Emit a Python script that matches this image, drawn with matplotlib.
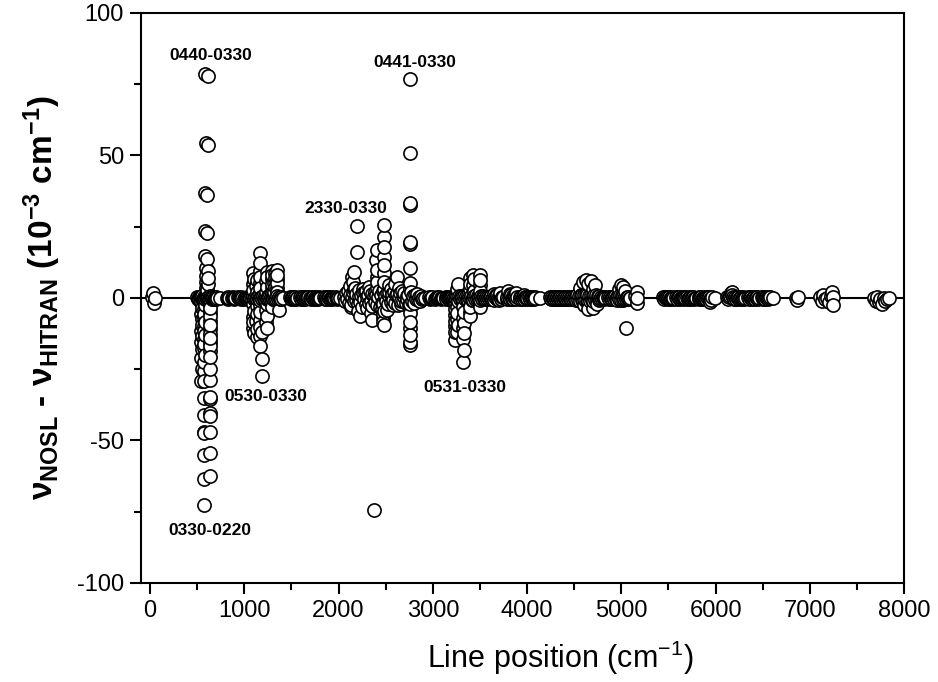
import numpy as np
import matplotlib.pyplot as plt
from matplotlib.ticker import MultipleLocator

plt.rcParams['font.family'] = ['Liberation Sans', 'DejaVu Sans']
plt.rcParams['mathtext.fontset'] = 'custom'
plt.rcParams['mathtext.rm'] = 'Liberation Sans'
plt.rcParams['mathtext.bf'] = 'Liberation Sans:bold'
plt.rcParams['mathtext.it'] = 'Liberation Sans:italic'
plt.rcParams['axes.unicode_minus'] = False

# line positions (cm-1) and deviations NOSL - HITRAN (1e-3 cm-1), read band by band

pos_low = [15, 30, 40, 50]
dev_low = [0.2, 1.6, -1.8, 0.0]

# 0440-0330 / 0330-0220 region
pos_b0 = [502, 509, 515, 522, 528, 535, 541, 548, 554, 561,
          567, 574, 580, 587, 593, 600, 606, 613, 619, 626,
          632, 639, 645, 652, 658, 665, 671, 678, 684, 691,
          697, 704, 712, 743]
dev_b0 = [0.2, -0.3, 0.4, -0.2, 0.5, -0.4, 0.3, -0.5, 0.6, -0.3,
          0.4, -0.6, 0.2, -0.4, 0.5, -0.2, 0.3, -0.5, 0.4, -0.3,
          0.6, -0.4, 0.2, -0.5, 0.3, -0.2, 0.4, -0.3, 0.2, -0.4,
          0.3, -0.2, 0.1, 0.0]
pos_b1 = [585, 612, 588, 610, 583, 606, 585, 608, 582, 605, 588, 610, 592, 614, 590, 612, 595, 608, 600]
dev_b1 = [78.6, 77.8, 54.3, 53.8, 36.9, 36.3, 23.5, 22.9, 14.6, 13.8, 10.4, 9.6, 7.8, 7.0, 5.6, 4.8,
          3.6, 2.8, 2.0]
pos_b2 = [545, 548, 543, 546, 549, 544, 547, 545, 548, 543, 546, 544]
dev_b2 = [-1.5, -3.5, -5.5, -7.5, -9.5, -11.5, -13.5, -15.5, -18.0, -21.0, -25.0, -29.0]
pos_b3 = [575, 578, 573, 576, 574, 577, 572, 575, 578, 573, 576, 574, 577, 575, 572, 576,
          574, 573, 575, 572, 574, 573, 575]
dev_b3 = [-1.0, -2.5, -4.0, -5.5, -7.0, -8.5, -10.0, -11.5, -13.0, -14.5, -16.0, -17.5, -20.0,
          -22.5, -25.5, -29.3, -35.0, -41.0, -47.5, -55.0, -63.5, -47.0, -72.6]
pos_b4 = [637, 640, 635, 638, 636, 639, 634, 637, 640, 635, 638, 636, 639, 637, 634, 638,
          636, 637, 635, 638, 636, 637]
dev_b4 = [-2.0, -3.5, -5.0, -6.5, -8.0, -9.5, -11.0, -12.5, -14.0, -15.5, -17.0, -18.5, -20.6,
          -24.8, -28.8, -34.6, -40.4, -46.9, -54.3, -62.5, -35.5, -41.5]

# 0530-0330 region
pos_c0 = [815, 823, 831, 839, 870, 878, 886, 894, 902, 935,
          943, 951, 959, 967, 975, 1000, 1008, 1016, 1024, 1032,
          1040, 1048, 1056, 1064]
dev_c0 = [0.1, -0.2, 0.2, 0.0, -0.1, 0.2, -0.2, 0.1, 0.0, 0.2,
          -0.1, 0.1, -0.2, 0.2, 0.0, -0.2, 0.1, -0.1, 0.2, 0.0,
          -0.2, 0.1, -0.1, 0.0]
pos_c3 = [1078, 1086, 1095, 1103, 1112, 1120, 1129, 1137, 1146, 1154,
          1163, 1171, 1180, 1188, 1197, 1205, 1214, 1222, 1231, 1239,
          1248, 1256, 1265, 1273, 1282, 1290, 1299, 1307, 1316, 1324,
          1333, 1341, 1350, 1358, 1367, 1375, 1384, 1392, 1412]
dev_c3 = [0.4, -0.6, 0.8, -0.3, 0.5, -0.8, 0.6, -0.4, 0.7, -0.5,
          0.3, -0.7, 0.5, -0.2, 0.6, -0.5, 0.8, -0.6, 0.4, -0.3,
          0.7, -0.5, 0.3, -0.6, 0.5, -0.4, 0.8, -0.3, 0.6, -0.7,
          0.4, -0.5, 0.6, -0.3, 0.5, -0.4, 0.3, -0.2, 0.0]
pos_c1 = [1095, 1098, 1092, 1096, 1094, 1097, 1093, 1096, 1094, 1098,
          1130, 1128, 1132, 1129, 1131, 1128, 1132, 1130,
          1165, 1168, 1163, 1166, 1164, 1167, 1165, 1163, 1166, 1164, 1167, 1165, 1168,
          1188, 1190, 1186]
dev_c1 = [8.8, 6.8, 4.8, 2.8, -2.2, -4.4, -6.6, -8.6, -10.4, -12.2,
          6.4, 4.2, 2.2, -2.8, -5.6, -8.2, -10.8, -13.6,
          15.8, 12.4, 9.6, 7.4, 5.4, 3.4, 1.6, -2.4, -5.0, -7.6, -10.2, -13.2, -16.7,
          -11.8, -21.5, -27.3]
pos_c2 = [1235, 1238, 1232, 1236, 1234, 1237, 1233, 1236, 1234, 1238,
          1290, 1293, 1288, 1292, 1289, 1291, 1290, 1292,
          1320, 1322, 1318, 1321, 1319,
          1347, 1350, 1345, 1348, 1346, 1349, 1370]
dev_c2 = [9.0, 7.4, 5.8, 4.0, 2.2, -2.0, -4.2, -6.2, -8.4, -10.6,
          9.4, 8.0, 6.6, 5.0, 3.4, 1.8, -1.6, -3.2,
          8.6, 7.0, 5.4, 3.8, 2.2,
          9.8, 8.2, 6.8, 5.2, 3.6, 2.0, -4.2]

# 1500-2050
pos_d = [1485, 1493, 1501, 1509, 1517, 1525, 1533, 1541, 1549, 1557,
         1595, 1603, 1611, 1619, 1627, 1635, 1643, 1651, 1659, 1667,
         1675, 1700, 1708, 1716, 1724, 1732, 1740, 1748, 1756, 1764,
         1772, 1780, 1788, 1796, 1804, 1845, 1853, 1861, 1869, 1877,
         1885, 1893, 1901, 1909, 1917, 1925, 1933, 1941, 1949, 1972,
         1980, 1988, 1996, 2015]
dev_d = [0.2, -0.3, 0.3, -0.1, 0.2, -0.3, 0.1, 0.3, -0.2, 0.0,
         0.2, -0.2, 0.3, -0.3, 0.1, 0.2, -0.2, 0.3, -0.1, 0.0,
         0.2, 0.1, -0.3, 0.2, -0.1, 0.3, -0.2, 0.1, 0.2, -0.3,
         0.1, -0.2, 0.3, -0.1, 0.0, 0.2, -0.3, 0.1, 0.3, -0.2,
         0.2, -0.1, 0.3, -0.3, 0.1, 0.2, -0.2, 0.1, 0.0, 0.2,
         -0.2, 0.1, -0.1, 0.0]

# 2330-0330 / 0441-0330 region
pos_e0 = [2058, 2071, 2079, 2092, 2101, 2108, 2122, 2131, 2138, 2152, 2161, 2168, 2182, 2189,
          2201, 2212, 2219, 2232, 2241, 2249, 2262, 2271, 2278, 2292, 2299, 2311, 2322, 2328,
          2341, 2352, 2359, 2372, 2381, 2388, 2402, 2409, 2421, 2432, 2438, 2451, 2459, 2472,
          2479, 2491, 2502, 2509, 2522, 2531, 2538, 2551, 2562, 2569, 2582, 2589, 2601, 2612,
          2619, 2632, 2641, 2648, 2662, 2671, 2679, 2692, 2699, 2711, 2722, 2728, 2741, 2752,
          2768, 2779, 2788, 2801, 2812, 2819, 2832, 2841, 2848, 2862, 2871, 2880, 2895]
dev_e0 = [0.5, -1.0, 1.8, -0.5, 2.5, -1.8, 1.0, -2.6, 0.3, 2.0, -1.2, 3.0, -0.8, 1.5,
          -2.2, 0.6, 2.8, -1.5, 0.9, -3.0, 1.6, -0.4, 2.2, -2.0, 0.5, 1.2, -1.6, 2.6,
          -0.9, 1.4, -2.8, 0.7, 2.0, -1.3, 1.1, -2.4, 0.4, 2.4, -3.2, 1.0, -1.8, 2.6,
          -4.5, 0.6, -1.0, 1.8, -2.0, 0.8, 2.2, -1.4, 0.3, 1.5, -0.8, 2.0, -1.6, 0.9,
          1.3, -2.3, 0.5, 1.9, -0.9, 2.4, -1.2, 0.4, 1.6, -1.8, 0.8, -0.5, 1.2, -2.4,
          2.0, -1.0, 0.6, -1.6, 1.0, -0.4, 1.4, -0.8, 0.3, -1.2, 0.8, -0.3, 0.0]
pos_e1 = [2140, 2160, 2193, 2193, 2120, 2150, 2175, 2128, 2210, 2228, 2260, 2300, 2340, 2352,
          2320, 2290,
          2405, 2402, 2406, 2403, 2405, 2404,
          2483, 2481, 2484, 2482, 2484, 2481, 2483, 2482, 2470, 2465, 2472, 2468, 2483, 2475,
          2511, 2540, 2560, 2600, 2618, 2640, 2580, 2660, 2380]
dev_e1 = [7.5, 9.2, 16.3, 25.3, 4.2, 5.5, 3.5, -3.0, -4.5, -6.5, 3.0, -3.5, -5.2, -7.8,
          4.0, 2.5,
          16.8, 13.3, 9.8, 7.5, 5.5, 3.4,
          25.6, 21.5, 18.0, 14.5, 11.6, 8.8, 5.7, 3.0, -2.0, -4.0, -5.5, -7.0, -9.5, -8.5,
          -4.2, 4.5, 3.0, 5.0, 7.5, 3.5, -2.5, -2.0, -74.4]
pos_e2 = [2759, 2757, 2760, 2756, 2759, 2757, 2760, 2758, 2757, 2760, 2758, 2759, 2761, 2758,
          2760, 2759, 2757]
dev_e2 = [76.7, 51.0, 33.2, 32.6, 19.8, 19.1, 10.6, 5.2, 3.0, -2.0, -3.6, -5.3, -8.3, -10.5,
          -13.0, -15.3, -16.5]

# 0531-0330 region
pos_f0 = [2918, 2962, 2970, 2978, 2986, 2994, 3026, 3034, 3042, 3050,
          3058, 3066, 3082, 3090, 3098, 3106, 3136, 3144, 3152, 3160,
          3168, 3176, 3184, 3192, 3200, 3208, 3216]
dev_f0 = [0.0, 0.2, -0.2, 0.1, -0.1, 0.2, -0.2, 0.1, 0.2, -0.1,
          0.0, 0.2, -0.2, 0.1, -0.1, 0.0, 0.2, -0.2, 0.3, -0.1,
          0.2, -0.3, 0.1, 0.3, -0.2, 0.4, -0.3]
pos_f2 = [3224, 3233, 3242, 3251, 3260, 3269, 3278, 3287, 3296, 3305,
          3314, 3323, 3332, 3341, 3350, 3359, 3368, 3377, 3386, 3395,
          3404, 3413, 3422, 3431, 3440, 3449, 3458, 3467, 3476, 3485,
          3494, 3503, 3512, 3521, 3530, 3539, 3548, 3557, 3566, 3575,
          3584, 3593]
dev_f2 = [0.5, -0.7, 0.9, -0.4, 0.6, -0.9, 0.7, -0.5, 0.8, -0.6,
          0.4, -0.8, 0.6, -0.3, 0.7, -0.6, 0.9, -0.7, 0.5, -0.4,
          0.8, -0.6, 0.4, -0.7, 0.6, -0.5, 0.9, -0.4, 0.7, -0.8,
          0.5, -0.6, 0.7, -0.4, 0.6, -0.5, 0.4, -0.3, 0.5, -0.4,
          0.3, -0.2]
pos_f1 = [3236, 3238, 3234, 3237, 3235, 3238, 3236,
          3260, 3262, 3258, 3261, 3259, 3262, 3260,
          3325, 3327, 3323, 3326, 3324, 3327, 3325, 3326, 3325,
          3395, 3397, 3393, 3396, 3394, 3395,
          3431, 3433, 3429, 3432,
          3501, 3503, 3499, 3502, 3500]
dev_f1 = [-2.0, -4.0, -6.0, -8.0, -10.0, -12.0, -14.9,
          3.0, 5.0, -3.0, -5.2, -7.4, -9.6, -11.8,
          -3.0, -5.0, -7.0, -8.7, -10.4, -12.2, -14.5, -18.2, -22.3,
          7.0, 5.0, 3.0, -3.0, -5.0, -6.5,
          8.1, 6.5, 4.5, 2.5,
          8.1, 6.4, 4.5, 2.5, -3.0]

# 3600-4150
pos_g = [3605, 3613, 3621, 3629, 3637, 3645, 3653, 3661, 3669, 3677,
         3685, 3693, 3701, 3709, 3717, 3725, 3733, 3741, 3782, 3790,
         3798, 3806, 3814, 3822, 3830, 3838, 3846, 3854, 3862, 3870,
         3878, 3886, 3894, 3922, 3930, 3938, 3946, 3954, 3962, 3970,
         3978, 3986, 3994, 4002, 4025, 4033, 4041, 4049, 4057, 4065,
         4073, 4081, 4089, 4138]
dev_g = [0.3, -0.4, 0.8, -0.2, 0.5, 1.5, -0.6, 0.2, 0.9, -0.3,
         1.2, 0.0, -0.7, 0.6, 1.8, -0.4, 0.4, 0.2, -0.3, 0.5,
         2.3, 0.3, -0.5, 1.4, 1.0, -0.2, 0.6, -0.4, 0.3, 0.8,
         -0.2, 1.6, 0.4, 0.2, -0.3, 0.4, -0.2, 0.3, 1.2, -0.4,
         0.2, 0.5, -0.3, 0.1, 0.3, -0.2, 0.2, -0.4, 0.3, 0.1,
         -0.2, 0.2, 0.0, 0.0]

# 4250-5200
pos_h0 = [4245, 4254, 4263, 4272, 4281, 4290, 4299, 4308, 4317, 4326,
          4335, 4344, 4353, 4362, 4371, 4380, 4389, 4398, 4407, 4416,
          4425, 4434, 4443, 4452, 4461, 4470, 4479, 4488, 4497, 4506,
          4515, 4524, 4533, 4542, 4551, 4560, 4569, 4578, 4587, 4596,
          4605, 4614, 4623, 4632, 4641, 4650, 4659, 4668, 4677, 4686,
          4695, 4704, 4713, 4722, 4731, 4740, 4749, 4758, 4767, 4776,
          4785, 4794, 4803, 4812, 4821, 4830, 4860, 4869, 4878, 4887,
          4896, 4905, 4914, 4923, 4932, 4941, 4950, 4959, 4968, 4977,
          4986, 4995, 5004, 5013, 5022, 5031, 5040, 5049, 5058, 5067,
          5076, 5085, 5094, 5150]
dev_h0 = [0.2, -0.3, 0.4, -0.2, 0.3, -0.4, 0.2, -0.3, 0.4, -0.2,
          0.3, -0.4, 0.2, -0.3, 0.4, -0.2, 0.3, -0.4, 0.2, -0.3,
          0.4, -0.2, 0.3, -0.4, 0.2, -0.3, 0.4, -0.2, 0.3, -0.4,
          0.6, -0.8, 1.0, -0.6, 0.8, -1.0, 1.2, -0.7, 0.9, -1.1,
          1.0, -0.8, 1.3, -0.9, 1.1, -1.2, 0.8, -1.0, 1.2, -0.7,
          0.9, -1.1, 1.0, -0.8, 1.1, -0.9, 0.8, -0.7, 0.6, -0.5,
          0.4, -0.3, 0.2, -0.4, 0.3, 0.0, 0.3, -0.4, 0.5, -0.3,
          0.4, -0.5, 0.3, -0.4, 0.6, -0.3, 0.5, -0.6, 0.8, -0.5,
          1.0, -0.6, 0.9, -0.8, 0.7, -0.5, 0.6, -0.4, 0.5, -0.3,
          0.3, -0.2, 0.0, 0.8]
pos_h1 = [4560, 4590, 4620, 4650, 4680, 4700, 4720, 4600, 4650, 4700, 4740, 4980, 5000,
          5020, 5040, 5050, 5165, 5165, 5168]
dev_h1 = [3.5, 5.5, 6.3, 5.0, 6.0, 3.0, 4.5, -2.5, -4.0, -3.5, -2.0, 3.0, 4.5,
          4.0, 2.5, -10.6, 2.2, -1.8, 0.0]

# 5440-6650
pos_i = [5445, 5454, 5463, 5472, 5481, 5490, 5499, 5508, 5517, 5526,
         5535, 5544, 5553, 5580, 5589, 5598, 5607, 5616, 5625, 5634,
         5643, 5652, 5661, 5670, 5679, 5700, 5709, 5718, 5727, 5736,
         5745, 5754, 5763, 5772, 5781, 5790, 5820, 5829, 5838, 5847,
         5856, 5865, 5874, 5883, 5892, 5901, 5910, 5919, 5928, 5937,
         5946, 5955, 5964, 5995]
dev_i = [0.2, -0.2, 0.3, -0.1, 0.2, -0.3, 0.1, 0.2, -0.2, 0.0,
         0.2, -0.3, 0.1, 0.2, -0.2, 0.3, -0.1, 0.2, -0.3, 0.1,
         0.0, 0.2, -0.2, 0.3, 0.0, 0.2, -0.3, 0.1, 0.2, -0.2,
         0.3, -0.1, 0.2, -0.3, 0.1, 0.0, 0.2, -0.2, 0.1, 0.3,
         -0.2, 0.1, -0.3, 0.2, 0.0, -0.2, 0.3, -0.1, 0.2, -0.4,
         -1.5, -0.6, 0.2, 0.0]
pos_j = [6125, 6134, 6143, 6152, 6161, 6170, 6179, 6188, 6197, 6206,
         6215, 6224, 6233, 6242, 6251, 6260, 6269, 6278, 6287, 6296,
         6305, 6314, 6345, 6354, 6363, 6372, 6381, 6390, 6399, 6408,
         6417, 6426, 6435, 6444, 6453, 6462, 6490, 6499, 6508, 6517,
         6526, 6535, 6544, 6553, 6562, 6571, 6580, 6610]
dev_j = [0.2, -0.3, 0.3, 0.8, 1.6, 2.2, 1.2, 0.4, -0.2, 0.3,
         -0.3, 0.2, -0.1, 0.3, -0.2, 0.1, 0.3, -0.3, 0.2, 0.0,
         -0.2, 0.1, 0.2, -0.3, 0.3, -0.1, 0.2, -0.2, 0.1, 0.3,
         -0.2, 0.2, -0.1, 0.3, -0.3, 0.1, 0.2, -0.2, 0.3, 0.0,
         -0.3, 0.2, 0.1, -0.2, 0.3, -0.1, 0.2, 0.0]

# 6850-7850
pos_k = [6850, 6862, 6875, 7110, 7125, 7140, 7160, 7180, 7200, 7220, 7240, 7250, 7245,
         7680, 7700, 7715, 7730, 7750, 7770, 7785, 7800, 7820, 7840]
dev_k = [0.0, -0.6, 0.2, 0.5, -1.0, 1.0, -0.5, 0.0, -1.5, 0.8, 2.2, -2.5, 0.5,
         0.0, -1.0, 0.3, -1.5, -0.5, -2.0, 0.0, -1.2, -0.3, 0.0]

band_labels = ['0440-0330', '0441-0330', '2330-0330', '0530-0330', '0531-0330', '0330-0220']
label_xy = [(640, 85), (2810, 82.5), (2075, 31.5), (1230, -34.5), (3345, -31.5), (630, -81.5)]

pos_parts = [pos_low, pos_b0, pos_b1, pos_b2, pos_b3, pos_b4, pos_c0, pos_c3, pos_c1, pos_c2,
             pos_d, pos_e0, pos_e1, pos_e2, pos_f0, pos_f2, pos_f1, pos_g, pos_h0, pos_h1,
             pos_i, pos_j, pos_k]
dev_parts = [dev_low, dev_b0, dev_b1, dev_b2, dev_b3, dev_b4, dev_c0, dev_c3, dev_c1, dev_c2,
             dev_d, dev_e0, dev_e1, dev_e2, dev_f0, dev_f2, dev_f1, dev_g, dev_h0, dev_h1,
             dev_i, dev_j, dev_k]
for p, d in zip(pos_parts, dev_parts):
    assert len(p) == len(d), (len(p), len(d), p[0])

pos = np.concatenate(pos_parts).astype(float)
dev = np.concatenate(dev_parts).astype(float)
order = np.argsort(pos, kind='stable')

fig = plt.figure(figsize=(9.38, 6.82), dpi=100)
ax = fig.add_axes([0.150, 0.1452, 0.8138, 0.8358])

ax.axhline(0, color='black', lw=1.5, zorder=2)
ax.scatter(pos[order], dev[order], s=90, facecolors='white', edgecolors='black',
           linewidths=1.2, zorder=3)

for lab, (lx, ly) in zip(band_labels, label_xy):
    ax.text(lx, ly, lab, ha='center', va='center', fontsize=12.5, fontweight='bold', zorder=4)

ax.set_xlim(-100, 8000)
ax.set_ylim(-100, 100)
ax.xaxis.set_major_locator(MultipleLocator(1000))
ax.xaxis.set_minor_locator(MultipleLocator(500))
ax.yaxis.set_major_locator(MultipleLocator(50))
ax.yaxis.set_minor_locator(MultipleLocator(25))
ax.tick_params(which='major', direction='out', length=8, width=1.5, labelsize=17, pad=4)
ax.tick_params(which='minor', direction='out', length=5, width=1.5)
for s in ax.spines.values():
    s.set_linewidth(1.5)

ax.set_xlabel(r'Line position (cm$^{-1}$)', fontsize=22)
ax.xaxis.set_label_coords(0.549, -0.098)
ax.set_ylabel(r'ν$_{\mathbf{NOSL}}$ - ν$_{\mathbf{HITRAN}}$ (10$^{\mathbf{-3}}$ cm$^{\mathbf{-1}}$)',
              fontsize=24, fontweight='bold', labelpad=10)

fig.savefig('out.png', dpi=100)
